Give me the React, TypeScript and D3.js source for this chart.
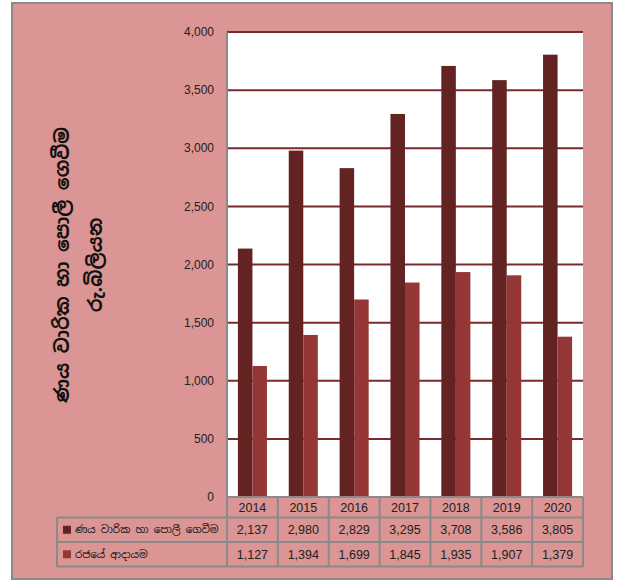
import React from "react";
import * as d3 from "d3";

const years = ["2014", "2015", "2016", "2017", "2018", "2019", "2020"];
const seriesNames = ["ණය වාරික හා පොලී ගෙවීම", "රජයේ ආදායම"];
const debtService = [2137, 2980, 2829, 3295, 3708, 3586, 3805];
const revenue = [1127, 1394, 1699, 1845, 1935, 1907, 1379];
const yTicks = [0, 500, 1000, 1500, 2000, 2500, 3000, 3500, 4000];
const axisTitle = ["ණය වාරික හා පොලී ගෙවීම", "රු.බිලියන"];

const W = 617;
const H = 581;
const colors = ["#632323", "#963737"];
const pink = "#da9594";
const gray = "#8a8a8a";
const sinhalaFont = "'Noto Sans Sinhala', 'Iskoola Pota', 'Noto Sans', sans-serif";
const numFont = "'Liberation Sans', Arial, sans-serif";

export default function App() {
  const plotL = 227, plotR = 583, plotT = 32, plotB = 497;
  const y = d3.scaleLinear().domain([0, 4000]).range([plotB, plotT]);
  const x0 = d3.scaleBand<string>().domain(years).range([plotL, plotR]);
  const x1 = d3
    .scaleBand<string>()
    .domain(seriesNames)
    .range([0, x0.bandwidth()])
    .paddingInner(0)
    .paddingOuter(0.75);
  const fmt = d3.format(",");
  const data = [debtService, revenue];
  const rowY = [497, 517.5, 542, 566.5];
  const tableL = 57;

  return (
    <svg width={W} height={H} style={{ position: "absolute", left: 0, top: 0 }}>
      <rect x={12} y={3} width={600} height={576} fill={pink} stroke={gray} strokeWidth={2} />
      <rect x={plotL} y={plotT} width={plotR - plotL} height={plotB - plotT} fill="#ffffff" />
      {yTicks.filter((t) => t > 0).map((t) => (
        <line key={t} x1={plotL} x2={plotR} y1={y(t)} y2={y(t)} stroke="#7a2a2a" strokeWidth={2} />
      ))}
      {data.map((vals, si) =>
        years.map((yr, i) => (
          <rect
            key={si + "-" + yr}
            x={(x0(yr) as number) + (x1(seriesNames[si]) as number)}
            y={y(vals[i])}
            width={x1.bandwidth()}
            height={y(0) - y(vals[i])}
            fill={colors[si]}
          />
        ))
      )}
      <line x1={plotL} x2={plotL} y1={plotT} y2={plotB} stroke={gray} strokeWidth={2} />
      {yTicks.map((t) => (
        <text key={t} x={214} y={y(t)} dy="0.35em" textAnchor="end" fontFamily={numFont} fontSize={12} fill="#222">
          {fmt(t)}
        </text>
      ))}
      {/* data table */}
      <g stroke={gray} strokeWidth={2} fill="none">
        <line x1={plotL} x2={plotR} y1={rowY[0]} y2={rowY[0]} />
        <line x1={tableL} x2={plotR} y1={rowY[1]} y2={rowY[1]} />
        <line x1={tableL} x2={plotR} y1={rowY[2]} y2={rowY[2]} />
        <line x1={tableL} x2={plotR} y1={rowY[3]} y2={rowY[3]} />
        <line x1={tableL} x2={tableL} y1={rowY[1]} y2={rowY[3]} />
        {years.map((yr) => (
          <line key={yr} x1={x0(yr) as number} x2={x0(yr) as number} y1={rowY[0]} y2={rowY[3]} />
        ))}
        <line x1={plotR} x2={plotR} y1={rowY[0]} y2={rowY[3]} />
      </g>
      {years.map((yr) => (
        <text
          key={yr}
          x={(x0(yr) as number) + x0.bandwidth() / 2}
          y={(rowY[0] + rowY[1]) / 2}
          dy="0.36em"
          textAnchor="middle"
          fontFamily={numFont}
          fontSize={12.5}
          fill="#222"
        >
          {yr}
        </text>
      ))}
      {data.map((vals, si) => {
        const cy = (rowY[si + 1] + rowY[si + 2]) / 2;
        return (
          <g key={si}>
            <rect x={63} y={cy - 4} width={8} height={8} fill={colors[si]} />
            <text x={75} y={cy} dy="0.35em" fontFamily={sinhalaFont} fontSize={10.3} fill="#111">
              {seriesNames[si]}
            </text>
            {vals.map((v, i) => (
              <text
                key={i}
                x={(x0(years[i]) as number) + x0.bandwidth() / 2}
                y={cy}
                dy="0.36em"
                textAnchor="middle"
                fontFamily={numFont}
                fontSize={12.5}
                fill="#222"
              >
                {fmt(v)}
              </text>
            ))}
          </g>
        );
      })}
      {/* axis title */}
      <g transform="translate(62,265) rotate(-90)">
        <text x={0} y={0} dy="0.35em" textAnchor="middle" fontFamily={sinhalaFont} fontSize={19} fontWeight="bold" fill="#111">
          {axisTitle[0]}
        </text>
      </g>
      <g transform="translate(95,265) rotate(-90)">
        <text x={0} y={0} dy="0.35em" textAnchor="middle" fontFamily={sinhalaFont} fontSize={19} fontWeight="bold" fill="#111">
          {axisTitle[1]}
        </text>
      </g>
    </svg>
  );
}
